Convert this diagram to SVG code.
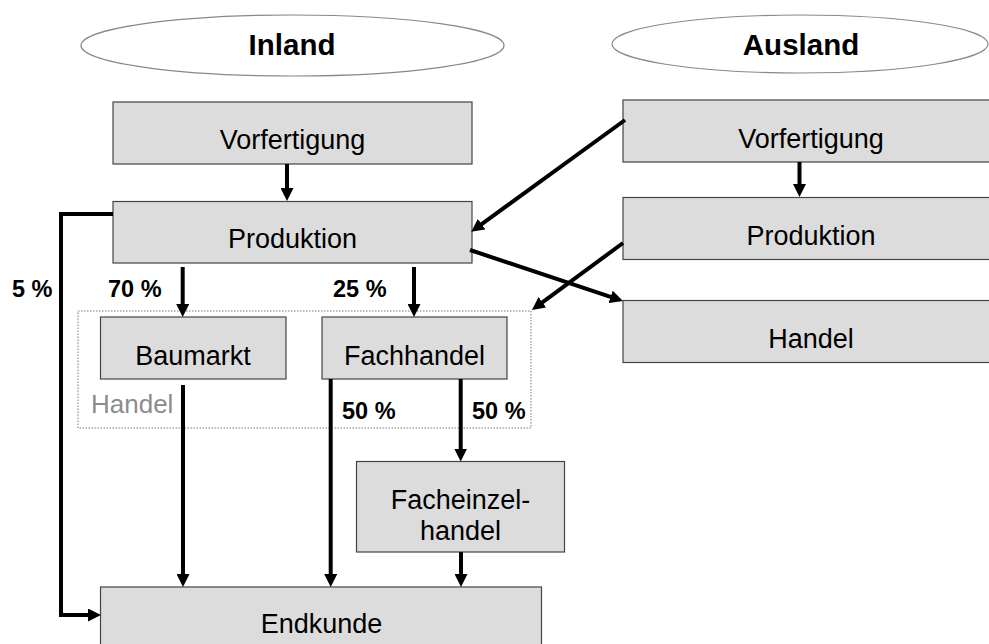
<svg xmlns="http://www.w3.org/2000/svg" width="989" height="644" viewBox="0 0 989 644">
<defs>
<marker id="ah" markerUnits="userSpaceOnUse" markerWidth="13" markerHeight="13" viewBox="0 0 13 13" refX="3" refY="6.5" orient="auto">
<path d="M0,0 L13,6.5 L0,13 z" fill="#000"/>
</marker>
</defs>
<style>
.box{fill:#dcdcdc;stroke:#444;stroke-width:1.2}
.ell{fill:#fff;stroke:#888;stroke-width:1.2}
.t{font-family:"Liberation Sans",Arial,sans-serif;font-size:27px;fill:#000;text-anchor:middle}
.h{font-family:"Liberation Sans",Arial,sans-serif;font-size:29.5px;font-weight:bold;fill:#000;text-anchor:middle}
.p{font-family:"Liberation Sans",Arial,sans-serif;font-size:23.5px;font-weight:bold;fill:#000}
.c{fill:none;stroke:#000;stroke-width:4;marker-end:url(#ah)}
</style>
<rect width="989" height="644" fill="#fff"/>
<g id="inland">
<ellipse class="ell" cx="292.5" cy="45.5" rx="211.5" ry="30.5"/>
<text class="h" x="292" y="55">Inland</text>
</g>
<g id="ausland">
<ellipse class="ell" cx="800" cy="44" rx="188" ry="29"/>
<text class="h" x="801" y="55">Ausland</text>
</g>
<g id="handel-group">
<rect x="78" y="311" width="453" height="117" fill="none" stroke="#7a7a7a" stroke-width="1" stroke-dasharray="1.5,1.5"/>
<text x="91" y="413" font-family="Liberation Sans, Arial, sans-serif" font-size="26px" fill="#8c8c8c">Handel</text>
</g>
<g id="vorfertigung-inland">
<rect class="box" x="113" y="102" width="359" height="62"/>
<text class="t" x="292.5" y="148.5">Vorfertigung</text>
</g>
<g id="produktion-inland">
<rect class="box" x="113" y="201.5" width="359" height="61.5"/>
<text class="t" x="292.5" y="248">Produktion</text>
</g>
<g id="baumarkt">
<rect class="box" x="100.5" y="317" width="185.5" height="62"/>
<text class="t" x="193" y="364.5">Baumarkt</text>
</g>
<g id="fachhandel">
<rect class="box" x="322" y="317" width="185" height="62"/>
<text class="t" x="414.5" y="364.5">Fachhandel</text>
</g>
<g id="facheinzelhandel">
<rect class="box" x="356.5" y="461.5" width="208" height="90.5"/>
<text class="t" x="460.5" y="508.5">Facheinzel-</text>
<text class="t" x="460.5" y="540">handel</text>
</g>
<g id="endkunde">
<rect class="box" x="100.5" y="587" width="441" height="70"/>
<text class="t" x="321.5" y="633">Endkunde</text>
</g>
<g id="vorfertigung-ausland">
<rect class="box" x="623" y="100" width="376" height="62"/>
<text class="t" x="811" y="147.5">Vorfertigung</text>
</g>
<g id="produktion-ausland">
<rect class="box" x="623" y="197.5" width="376" height="62"/>
<text class="t" x="811" y="245">Produktion</text>
</g>
<g id="handel-ausland">
<rect class="box" x="623" y="300.5" width="376" height="62"/>
<text class="t" x="811" y="347.5">Handel</text>
</g>
<g id="connectors">
<line class="c" x1="287" y1="164" x2="287" y2="191"/>
<line class="c" x1="625" y1="120" x2="479.3" y2="225.9"/>
<line class="c" x1="470" y1="250" x2="613.5" y2="297.8"/>
<line class="c" x1="623" y1="243" x2="540" y2="304.1"/>
<line class="c" x1="799.5" y1="162" x2="799.5" y2="187"/>
<line class="c" x1="182.7" y1="267" x2="182.7" y2="307"/>
<line class="c" x1="414" y1="267" x2="414" y2="307"/>
<polyline class="c" points="113,214 61,214 61,615 91,615"/>
<line class="c" x1="183" y1="385" x2="183" y2="577"/>
<line class="c" x1="330.7" y1="379" x2="330.7" y2="577"/>
<line class="c" x1="460.7" y1="379" x2="460.7" y2="451.5"/>
<line class="c" x1="461" y1="552" x2="461" y2="577"/>
</g>
<g id="labels">
<text class="p" x="12" y="297">5 %</text>
<text class="p" x="108" y="297">70 %</text>
<text class="p" x="333" y="297">25 %</text>
<text class="p" x="342" y="419">50 %</text>
<text class="p" x="472" y="419">50 %</text>
</g>
</svg>
